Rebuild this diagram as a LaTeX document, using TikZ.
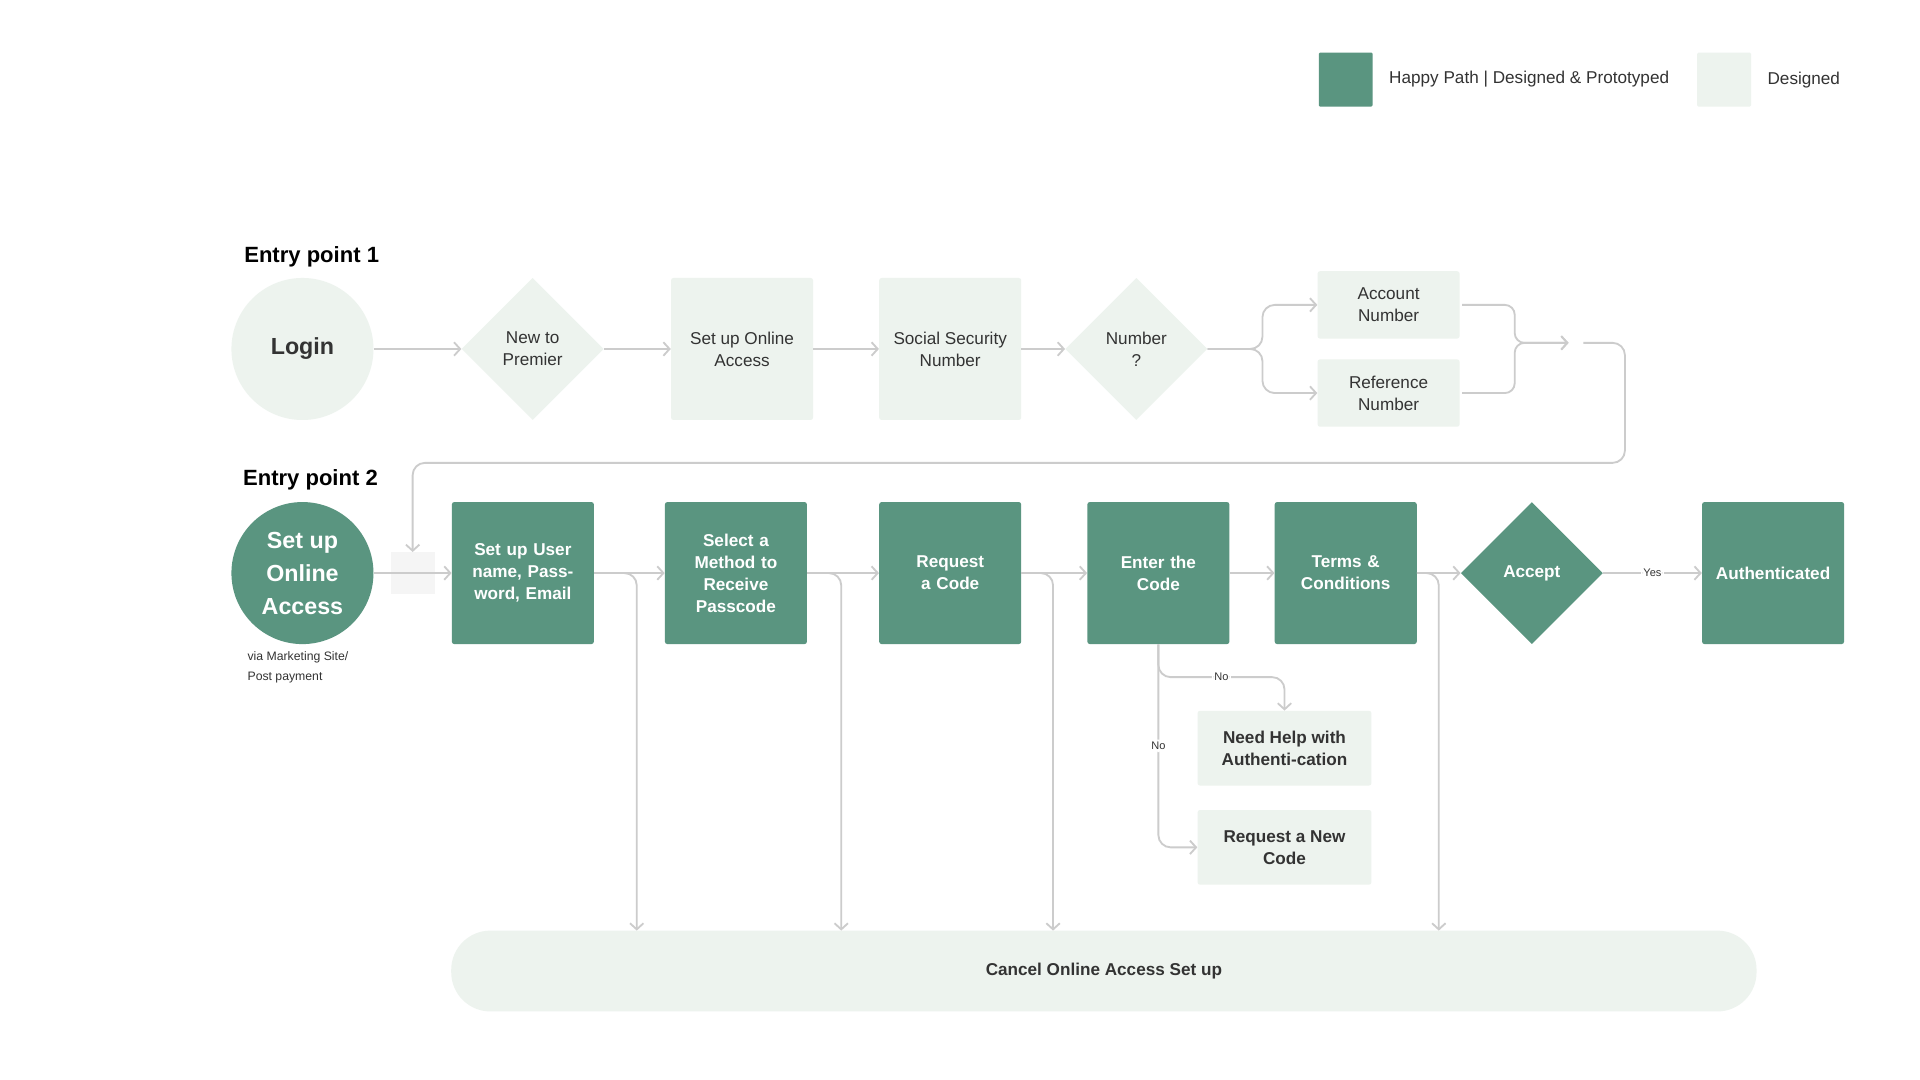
\documentclass[tikz,border=0pt]{standalone}
\usepackage{fontspec}
\setmainfont{Liberation Sans}
\usetikzlibrary{arrows.meta,shapes.geometric}
\definecolor{dg}{HTML}{5A9580}
\definecolor{lg}{HTML}{EDF3EE}
\definecolor{ln}{HTML}{CCCCCC}
\definecolor{tx}{HTML}{333333}
\begin{document}
\begin{tikzpicture}[x=1pt,y=-1pt,
 lbox/.style={fill=lg,draw=none,rounded corners=2pt,minimum width=116pt,minimum height=116pt,align=center,text=tx,font=\fontsize{14}{18}\selectfont,inner sep=0pt},
 dbox/.style={fill=dg,draw=none,rounded corners=2pt,minimum width=116pt,minimum height=116pt,align=center,text=white,font=\bfseries\fontsize{14}{18}\selectfont,text width=100pt,inner sep=0pt},
 sbox/.style={fill=lg,draw=none,rounded corners=2pt,minimum width=116pt,minimum height=55pt,align=center,text=tx,font=\fontsize{14}{18}\selectfont,inner sep=0pt},
 nbox/.style={fill=lg,draw=none,rounded corners=2pt,minimum width=142pt,minimum height=61pt,align=center,text=tx,font=\bfseries\fontsize{14}{18}\selectfont,inner sep=0pt},
 ldia/.style={diamond,fill=lg,draw=none,minimum width=116pt,minimum height=116pt,align=center,text=tx,font=\fontsize{14}{18}\selectfont,inner sep=0pt},
 con/.style={draw=ln,line width=1.5pt,rounded corners=10pt,-{Straight Barb[length=5pt,width=11pt]}},
 lab/.style={fill=white,text=tx,font=\fontsize{9}{11}\selectfont,inner sep=2pt},
 head/.style={anchor=west,font=\bfseries\fontsize{18}{22}\selectfont,text=black}]
\useasboundingbox[fill=white] (0,0) rectangle (1568,882);
% legend
\node[fill=dg,minimum width=44pt,minimum height=44pt,inner sep=0pt,rounded corners=1pt] (lg1) at (1099,65) {};
\node[anchor=west,text=tx,font=\fontsize{14}{17}\selectfont] (lt1) at (1131,65) {Happy Path | Designed \& Prototyped};
\node[fill=lg,minimum width=44pt,minimum height=44pt,inner sep=0pt,rounded corners=1pt] (lg2) at (1408,65) {};
\node[anchor=west,text=tx,font=\fontsize{14}{17}\selectfont] (lt2) at (1440,65) {Designed};
% entry 1
\node[head] (e1) at (196,210) {Entry point 1};
\node[circle,fill=lg,minimum size=116pt,inner sep=0pt,text=tx,font=\bfseries\fontsize{19}{22}\selectfont] (login) at (247,285) {Login};
\node[ldia] (new) at (435,285) {New to\\Premier};
\node[lbox] (soa) at (606,285) {Set up Online\\Access};
\node[lbox] (ssn) at (776,285) {Social Security\\Number};
\node[ldia] (num) at (928,285) {Number\\?};
\node[sbox] (acc) at (1134,249) {Account\\Number};
\node[sbox] (ref) at (1134,321) {Reference\\Number};
\coordinate (m) at (1281,280);
\coordinate (r) at (1293,280);
\coordinate (ae) at (1194,249);
\coordinate (re) at (1194,321);
\draw[con] (login) -- (new);
\draw[con] (new) -- (soa);
\draw[con] (soa) -- (ssn);
\draw[con] (ssn) -- (num);
\draw[con] (num.east) -- (1031,285) |- (acc.west);
\draw[con] (num.east) -- (1031,285) |- (ref.west);
\draw[con,rounded corners=8pt] (ae) -- (1237,249) -- (1237,280) -- (m);
\draw[con,rounded corners=8pt] (re) -- (1237,321) -- (1237,280) -- (m);
% entry 2
\node[head] (e2) at (195,392) {Entry point 2};
\node[circle,fill=dg,minimum size=116pt,inner sep=0pt,text=white,align=center,font=\bfseries\fontsize{19}{27}\selectfont] (sua) at (247,468) {Set up\\Online\\Access};
\node[anchor=north west,align=left,text=tx,font=\fontsize{10}{16.5}\selectfont,inner sep=0pt] (via) at (202,532) {via Marketing Site/\\Post payment};
\node[fill=black!4,minimum width=36pt,minimum height=34pt,inner sep=0pt] (gap) at (337,468) {};
\node[dbox] (b1) at (427,468) {Set up User name, Password, Email};
\node[dbox] (b2) at (601,468) {Select a Method to Receive Passcode};
\node[dbox] (b3) at (776,468) {Request a Code};
\node[dbox] (b4) at (946,468) {Enter the Code};
\node[dbox] (b5) at (1099,468) {Terms \&\\Conditions};
\node[diamond,fill=dg,minimum width=116pt,minimum height=116pt,inner sep=0pt,text=white,font=\bfseries\fontsize{14}{18}\selectfont] (acpt) at (1251,468) {Accept};
\node[dbox] (auth) at (1448,468) {Authenticated};
\node[nbox] (help) at (1049,611) {Need Help with\\Authenti-cation};
\node[nbox] (rnc) at (1049,692) {Request a New\\Code};
\node[fill=lg,rounded corners=32pt,minimum width=1066pt,minimum height=66pt,inner sep=0pt,text=tx,font=\bfseries\fontsize{14}{17}\selectfont] (cancel) at (901.5,793) {Cancel Online Access Set up};
\draw[con] (r) -- (1327,280) -- (1327,378) -- (337,378) -- (gap.north);
\draw[con] (sua) -- (b1);
\draw[con] (b1) -- (b2);
\draw[con] (b2) -- (b3);
\draw[con] (b3) -- (b4);
\draw[con] (b4) -- (b5);
\draw[con] (b5) -- (acpt);
\draw[con] (acpt) -- node[lab]{Yes} (auth);
\draw[con] (b1.east) -- (520,468) -- (520,760);
\draw[con] (b2.east) -- (687,468) -- (687,760);
\draw[con] (b3.east) -- (860,468) -- (860,760);
\draw[con] (b5.east) -- (1175,468) -- (1175,760);
\draw[con] (b4.south) -- (946,553) -- node[lab,pos=0.5]{No} (1049,553) -- (help.north);
\draw[con] (b4.south) -- node[lab,pos=0.5]{No} (946,692) -- (rnc.west);
\end{tikzpicture}
\end{document}
